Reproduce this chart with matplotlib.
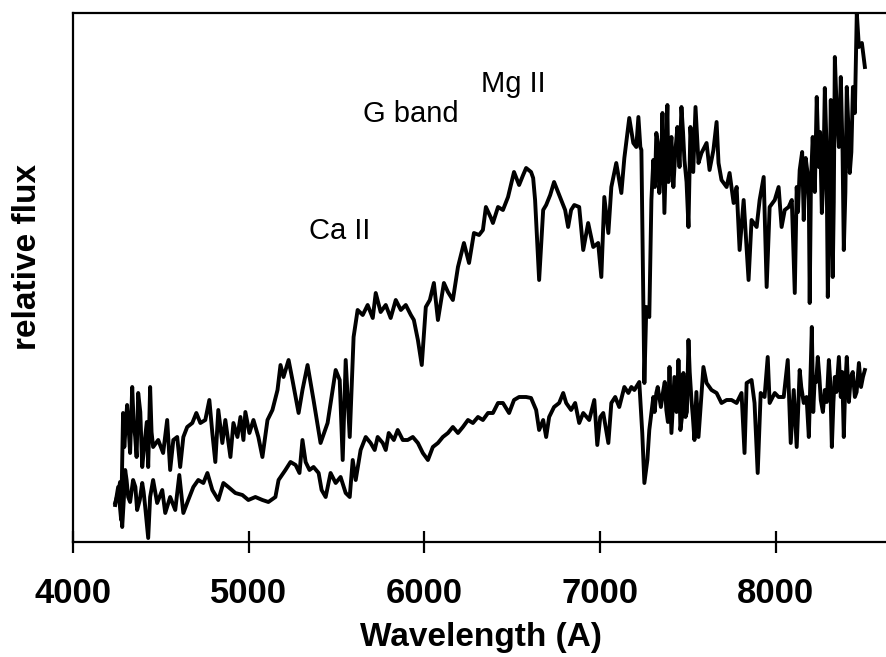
import matplotlib
matplotlib.use("Agg")
import matplotlib.pyplot as plt

plt.rcParams['font.family'] = ['Liberation Sans', 'DejaVu Sans']

# Upper spectrum (wavelength in Angstrom, relative flux)
wl_upper = [4240, 4257, 4274, 4285, 4308, 4325, 4337, 4354, 4371, 4394, 4411, 4428, 4439, 4456,
            4485, 4513, 4536, 4553, 4571, 4593, 4610, 4628, 4650, 4679, 4702, 4725, 4753, 4776,
            4793, 4810, 4827, 4850, 4867, 4896, 4913, 4936, 4953, 4970, 4981, 5004, 5027, 5055,
            5078, 5107, 5135, 5164, 5181, 5198, 5227, 5249, 5284, 5306, 5335, 5369, 5409, 5449,
            5495, 5518, 5535, 5552, 5575, 5597, 5620, 5649, 5677, 5706, 5723, 5751, 5780, 5808,
            5837, 5866, 5894, 5923, 5940, 5963, 5985, 6008, 6031, 6054, 6077, 6111, 6134, 6162,
            6191, 6225, 6254, 6282, 6311, 6333, 6350, 6379, 6390, 6419, 6447, 6476, 6510, 6539,
            6562, 6579, 6607, 6619, 6630, 6653, 6676, 6693, 6716, 6738, 6756, 6778, 6801, 6818,
            6835, 6853, 6881, 6904, 6932, 6961, 6989, 7007, 7024, 7047, 7064, 7092, 7121, 7138,
            7166, 7189, 7206, 7218, 7229, 7235, 7246, 7252, 7263, 7280, 7292, 7303, 7320, 7337,
            7355, 7366, 7383, 7395, 7417, 7440, 7463, 7480, 7503, 7514, 7543, 7560, 7577, 7606,
            7623, 7645, 7663, 7674, 7691, 7720, 7737, 7760, 7777, 7794, 7817, 7845, 7862, 7891,
            7908, 7931, 7948, 7965, 7994, 8016, 8033, 8051, 8073, 8091, 8108, 8119, 8136, 8159,
            8170, 8188, 8193, 8210, 8233, 8245, 8262, 8279, 8296, 8313, 8324, 8336, 8359, 8370,
            8387, 8404, 8421, 8439, 8450, 8461, 8473, 8490, 8507]
flux_upper = [0.37, 0.55, 0.22, 1.29, 1.37, 0.89, 1.55, 1.05, 1.49, 0.75, 1.05, 0.75, 1.55, 0.95,
              1.02, 0.89, 1.22, 0.72, 1.02, 1.05, 0.75, 1.05, 1.15, 1.19, 1.29, 1.19, 1.22, 1.42,
              1.09, 0.80, 1.32, 0.99, 1.22, 0.85, 1.19, 1.05, 1.25, 1.02, 1.30, 1.09, 1.22, 1.05,
              0.85, 1.22, 1.32, 1.52, 1.77, 1.65, 1.82, 1.62, 1.29, 1.52, 1.77, 1.42, 0.99, 1.19,
              1.72, 1.62, 0.82, 1.82, 1.05, 2.05, 2.32, 2.27, 2.37, 2.24, 2.49, 2.30, 2.37, 2.24,
              2.42, 2.32, 2.37, 2.27, 2.22, 2.02, 1.77, 2.35, 2.42, 2.59, 2.22, 2.59, 2.50, 2.42,
              2.75, 2.99, 2.79, 3.09, 3.07, 3.12, 3.35, 3.24, 3.19, 3.35, 3.32, 3.45, 3.70, 3.57,
              3.67, 3.74, 3.70, 3.64, 3.42, 2.62, 3.32, 3.37, 3.47, 3.60, 3.52, 3.42, 3.32, 3.15,
              3.32, 3.37, 3.35, 2.92, 3.19, 2.95, 2.99, 2.65, 3.45, 3.09, 3.55, 3.79, 3.49, 3.84,
              4.24, 3.99, 3.95, 4.25, 3.95, 3.92, 2.42, 1.59, 2.35, 2.25, 3.42, 3.82, 4.09, 3.49,
              4.29, 3.29, 4.37, 3.85, 3.55, 4.15, 4.35, 3.82, 3.15, 4.15, 4.35, 3.79, 3.89, 3.99,
              3.72, 3.92, 4.20, 3.79, 3.62, 3.55, 3.69, 3.39, 3.55, 2.92, 3.42, 2.62, 3.22, 3.15,
              3.42, 3.65, 2.55, 3.35, 3.42, 3.55, 3.15, 3.32, 3.35, 3.42, 2.49, 3.55, 3.72, 3.22,
              3.84, 3.42, 2.39, 4.05, 4.45, 3.75, 3.29, 4.54, 2.45, 4.42, 2.65, 4.85, 3.95, 4.65,
              2.92, 4.55, 3.69, 4.55, 4.29, 5.29, 4.95, 4.99, 4.75]
# extra samples read in the densest noisy stretches of the upper spectrum
wl_upper_extra = [4292, 4318, 4345, 4362, 4383, 4402, 4420, 4447,
                  7312, 7328, 7346, 7374, 7389, 7406, 7428, 7452, 7472, 7492, 7530, 7552,
                  8126, 8150, 8180, 8200, 8222, 8252, 8270, 8288, 8305, 8330, 8347, 8380,
                  8396, 8412, 8430]
flux_upper_extra = [0.95, 1.10, 1.20, 0.85, 1.30, 0.90, 1.20, 1.10,
                    3.55, 4.00, 3.70, 3.80, 3.60, 4.05, 3.90, 3.75, 4.10, 3.60, 3.70, 4.05,
                    3.30, 3.90, 3.70, 3.60, 3.50, 4.10, 3.60, 4.00, 3.30, 3.40, 4.30, 3.90,
                    3.50, 4.20, 3.90]

# Lower spectrum
wl_lower = [4240, 4257, 4280, 4297, 4314, 4342, 4365, 4394, 4411, 4428, 4439, 4456, 4479, 4508,
            4525, 4553, 4582, 4605, 4628, 4656, 4685, 4713, 4742, 4765, 4793, 4827, 4856, 4884,
            4924, 4964, 4998, 5038, 5078, 5112, 5152, 5170, 5209, 5238, 5267, 5289, 5306, 5324,
            5346, 5369, 5398, 5415, 5438, 5466, 5495, 5523, 5552, 5575, 5592, 5609, 5637, 5666,
            5694, 5717, 5734, 5763, 5780, 5797, 5826, 5848, 5877, 5905, 5934, 5963, 5991, 6020,
            6048, 6077, 6105, 6134, 6162, 6191, 6219, 6248, 6276, 6305, 6333, 6362, 6390, 6419,
            6447, 6482, 6510, 6539, 6579, 6607, 6636, 6653, 6676, 6693, 6710, 6738, 6767, 6790,
            6807, 6835, 6858, 6881, 6904, 6938, 6967, 6984, 7001, 7018, 7047, 7064, 7086, 7109,
            7138, 7161, 7178, 7195, 7223, 7240, 7252, 7269, 7280, 7303, 7320, 7337, 7360, 7377,
            7395, 7406, 7423, 7446, 7457, 7474, 7486, 7503, 7520, 7537, 7560, 7588, 7606, 7634,
            7663, 7691, 7720, 7748, 7777, 7805, 7822, 7834, 7862, 7879, 7897, 7914, 7936, 7954,
            7965, 7994, 8016, 8045, 8068, 8085, 8102, 8119, 8136, 8159, 8188, 8205, 8222, 8239,
            8256, 8279, 8302, 8319, 8336, 8359, 8370, 8387, 8404, 8427, 8450, 8473, 8496, 8507]
flux_lower = [0.39, 0.49, 0.15, 0.72, 0.45, 0.62, 0.32, 0.59, 0.35, 0.04, 0.45, 0.62, 0.39, 0.52,
              0.29, 0.45, 0.32, 0.67, 0.29, 0.42, 0.55, 0.62, 0.59, 0.69, 0.52, 0.42, 0.59, 0.55,
              0.49, 0.47, 0.42, 0.45, 0.42, 0.40, 0.45, 0.62, 0.72, 0.80, 0.77, 0.69, 1.02, 0.80,
              0.72, 0.75, 0.69, 0.52, 0.45, 0.69, 0.59, 0.65, 0.49, 0.45, 0.82, 0.62, 0.92, 1.05,
              0.99, 0.92, 1.05, 0.99, 0.92, 1.09, 1.02, 1.12, 1.02, 1.02, 1.05, 0.99, 0.89, 0.82,
              0.95, 0.99, 1.05, 1.09, 1.15, 1.09, 1.15, 1.22, 1.19, 1.25, 1.22, 1.29, 1.29, 1.39,
              1.39, 1.29, 1.42, 1.45, 1.45, 1.44, 1.32, 1.12, 1.22, 1.05, 1.25, 1.35, 1.39, 1.49,
              1.39, 1.32, 1.39, 1.19, 1.29, 1.22, 1.42, 0.97, 1.25, 1.29, 0.99, 1.39, 1.45, 1.35,
              1.55, 1.49, 1.55, 1.52, 1.60, 1.09, 0.59, 0.82, 1.12, 1.45, 1.49, 1.45, 1.52, 1.32,
              1.75, 1.09, 1.65, 1.82, 1.12, 1.69, 1.25, 2.02, 1.42, 1.02, 1.05, 1.75, 1.59, 1.52,
              1.49, 1.39, 1.42, 1.42, 1.39, 1.49, 0.89, 1.59, 1.62, 1.39, 0.69, 1.49, 1.45, 1.85,
              1.39, 1.49, 1.45, 1.45, 1.82, 0.99, 1.52, 0.95, 1.72, 1.39, 1.05, 2.15, 1.65, 1.85,
              1.42, 1.52, 1.82, 0.95, 1.65, 1.85, 1.45, 1.05, 1.85, 1.65, 1.45, 1.79, 1.65, 1.72]
# extra samples read in the densest noisy stretches of the lower spectrum
wl_lower_extra = [4268, 4290, 4305, 4325, 4355, 4380, 4402,
                  7310, 7328, 7346, 7368, 7386, 7414, 7435, 7452, 7466, 7480, 7494, 7510,
                  7528, 7548,
                  8145, 8175, 8213, 8230, 8248, 8268, 8290, 8310, 8328, 8345, 8378, 8395,
                  8416, 8438, 8460, 8485]
flux_lower_extra = [0.60, 0.45, 0.62, 0.40, 0.55, 0.42, 0.50,
                    1.30, 1.55, 1.35, 1.60, 1.20, 1.35, 1.30, 1.55, 1.25, 1.50, 1.30, 1.70,
                    1.25, 1.50,
                    1.55, 1.45, 1.30, 1.60, 1.65, 1.30, 1.40, 1.60, 1.40, 1.50, 1.70, 1.55,
                    1.40, 1.70, 1.50, 1.55]

x_ticks = [4000, 5000, 6000, 7000, 8000]
x_tick_labels = ["4000", "5000", "6000", "7000", "8000"]

labels = ["Ca II", "G band", "Mg II"]
label_wl = [5341, 5649, 6322]
label_flux = [3.03, 4.20, 4.50]


def merged(wl_a, fl_a, wl_b, fl_b):
    pts = sorted(zip(list(wl_a) + list(wl_b), list(fl_a) + list(fl_b)))
    return [p[0] for p in pts], [p[1] for p in pts]


up_wl, up_fl = merged(wl_upper, flux_upper, wl_upper_extra, flux_upper_extra)
lo_wl, lo_fl = merged(wl_lower, flux_lower, wl_lower_extra, flux_lower_extra)

fig = plt.figure(figsize=(8.87, 6.57), dpi=100)
ax = fig.add_axes([73 / 887, 1 - 542 / 657, 1 - 73 / 887 + 0.002, (542 - 13) / 657])

ax.plot(up_wl, up_fl, color='black', lw=2.8, solid_joinstyle='round')
ax.plot(lo_wl, lo_fl, color='black', lw=2.8, solid_joinstyle='round')

ax.set_xlim(4000, 8643)
ax.set_ylim(0, 5.29)

ax.set_xticks(x_ticks)
ax.set_xticklabels(x_tick_labels, fontsize=25, fontweight='bold')
ax.tick_params(axis='x', direction='inout', length=16, width=1.6, pad=17)
ax.set_yticks([])

for side in ['left', 'top', 'bottom']:
    ax.spines[side].set_linewidth(1.6)
ax.spines['right'].set_visible(False)

ax.set_xlabel("Wavelength (A)", fontsize=24, fontweight='bold', labelpad=9)
fig.text(28 / 887, 1 - 257 / 657, "relative flux", rotation=90, fontsize=24,
         fontweight='bold', ha='center', va='center')

for t, x, y in zip(labels, label_wl, label_flux):
    ax.text(x, y, t, fontsize=21, ha='left', va='baseline')

fig.savefig("out.png", dpi=100)
